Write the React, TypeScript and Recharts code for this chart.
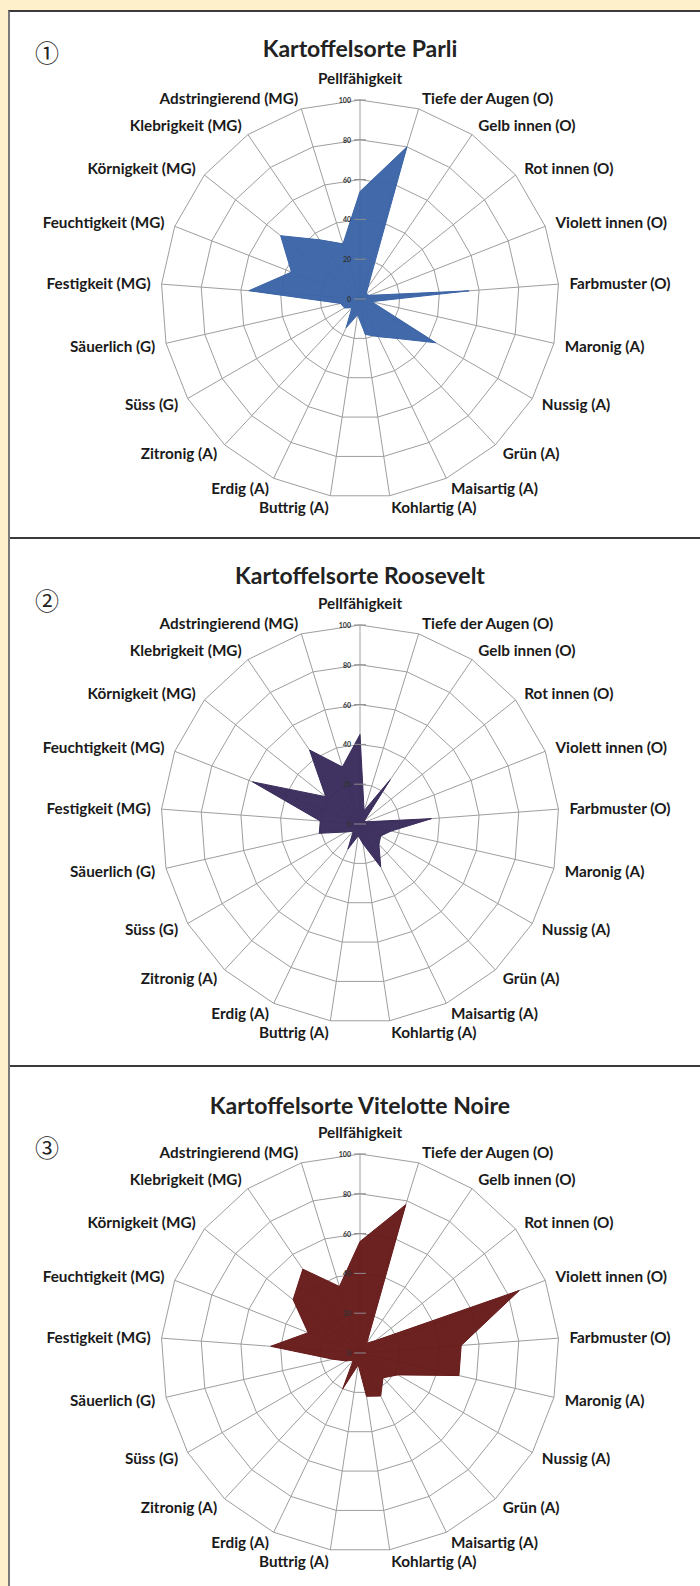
import {
  PolarAngleAxis,
  PolarGrid,
  PolarRadiusAxis,
  Radar,
  RadarChart,
} from "recharts";

const categories = [
  "Pellfähigkeit",
  "Tiefe der Augen (O)",
  "Gelb innen (O)",
  "Rot innen (O)",
  "Violett innen (O)",
  "Farbmuster (O)",
  "Maronig (A)",
  "Nussig (A)",
  "Grün (A)",
  "Maisartig (A)",
  "Kohlartig (A)",
  "Buttrig (A)",
  "Erdig (A)",
  "Zitronig (A)",
  "Süss (G)",
  "Säuerlich (G)",
  "Festigkeit (MG)",
  "Feuchtigkeit (MG)",
  "Körnigkeit (MG)",
  "Klebrigkeit (MG)",
  "Adstringierend (MG)",
];

const parli = [54, 80, 7, 4, 5, 55, 6, 44, 27, 21, 18, 8, 16, 6, 9, 10, 56, 37, 51, 36, 29];
const roosevelt = [45, 7, 27, 3, 3, 36, 16, 12, 14, 24, 10, 6, 14, 5, 8, 21, 20, 58, 22, 45, 30];
const vitelotte = [56, 78, 6, 10, 86, 51, 51, 22, 17, 24, 22, 6, 20, 5, 8, 14, 45, 28, 43, 51, 35];

const radiusTicks = [0, 20, 40, 60, 80, 100];

const OUTER = 199;
const LABEL_FONT = "Lato, 'Open Sans', sans-serif";

const panels = [
  { title: "Kartoffelsorte Parli", mark: "①", values: parli, color: "#3A64A7", top: 10, height: 527, cy: 287, titleY: 36, markY: 40 },
  { title: "Kartoffelsorte Roosevelt", mark: "②", values: roosevelt, color: "#392B5B", top: 537, height: 528, cy: 285, titleY: 36, markY: 61 },
  { title: "Kartoffelsorte Vitelotte Noire", mark: "③", values: vitelotte, color: "#671919", top: 1065, height: 521, cy: 286, titleY: 38, markY: 80 },
];

function AngleTick(props: any) {
  const { x, y, payload } = props;
  const a = (payload.coordinate * Math.PI) / 180;
  const ux = Math.cos(a);
  const uy = -Math.sin(a);
  const px = x + ux * 3;
  let py = y + uy * 3;
  const anchor = ux > 0.01 ? "start" : ux < -0.01 ? "end" : "middle";
  if (anchor === "middle" && uy < 0) py -= 11;
  return (
    <text
      x={px}
      y={py}
      textAnchor={anchor}
      dominantBaseline="central"
      fontFamily={LABEL_FONT}
      fontWeight={700}
      fontSize={15.3}
      fill="#1a1a1a"
    >
      {payload.value}
    </text>
  );
}

function RadiusTick(props: any) {
  const { x, y, payload } = props;
  return (
    <g>
      <line x1={x - 6} x2={x + 6} y1={y} y2={y} stroke="#8c8c8c" />
      <text
        x={x - 9}
        y={y}
        textAnchor="end"
        dominantBaseline="central"
        fontFamily={LABEL_FONT}
        fontSize={7}
        fontWeight={700}
        fill="#333"
      >
        {payload.value}
      </text>
    </g>
  );
}

function Panel({ p }: { p: (typeof panels)[number] }) {
  const data = categories.map((name, i) => ({ name, value: p.values[i] }));
  return (
    <div
      style={{
        position: "absolute",
        left: 0,
        top: p.top - 10,
        width: 690,
        height: p.height,
        borderBottom: "2px solid #3a3a3a",
        boxSizing: "border-box",
      }}
    >
      <div
        style={{
          position: "absolute",
          left: 0,
          width: 700,
          top: p.titleY - 15,
          textAlign: "center",
          fontFamily: LABEL_FONT,
          fontWeight: 700,
          fontSize: 23,
          color: "#222",
          lineHeight: "30px",
        }}
      >
        {p.title}
      </div>
      <div
        style={{
          position: "absolute",
          left: 25,
          top: p.markY - 15,
          fontFamily: "'Noto Sans CJK JP', 'DejaVu Sans', sans-serif",
          fontSize: 24,
          lineHeight: "30px",
          color: "#222",
        }}
      >
        {p.mark}
      </div>
      <div style={{ position: "absolute", left: 0, top: 0 }}>
        <RadarChart
          width={690}
          height={p.height - 2}
          data={data}
          cx={350}
          cy={p.cy}
          outerRadius={OUTER}
          margin={{ top: 0, right: 0, bottom: 0, left: 0 }}
        >
          <PolarGrid gridType="polygon" stroke="#9e9e9e" strokeWidth={1} />
          <PolarAngleAxis
            dataKey="name"
            tick={(t: any) => <AngleTick {...t} />}
            tickSize={8}
            tickLine={false}
            axisLine={false}
          />
          <PolarRadiusAxis
            angle={90}
            domain={[0, 100]}
            ticks={radiusTicks as any}
            tickCount={6}
            axisLine={false}
            tick={(t: any) => <RadiusTick {...t} />}
          />
          <Radar
            dataKey="value"
            fill={p.color}
            fillOpacity={0.96}
            stroke={p.color}
            strokeWidth={1}
            dot={false}
            isAnimationActive={false}
          />
        </RadarChart>
      </div>
    </div>
  );
}

export default function App() {
  return (
    <div
      style={{
        position: "absolute",
        left: 0,
        top: 0,
        width: 700,
        height: 1586,
        background: "#FDF0CB",
        overflow: "hidden",
      }}
    >
      <div
        style={{
          position: "absolute",
          left: 8,
          top: 10,
          width: 694,
          height: 1586,
          background: "#fff",
          borderLeft: "2px solid #7a7a7a",
          borderTop: "2px solid #3a3a3a",
          borderRight: "2px solid #3a3a3a",
          boxSizing: "border-box",
        }}
      >
        {panels.map((p) => (
          <Panel key={p.title} p={p} />
        ))}
      </div>
    </div>
  );
}
